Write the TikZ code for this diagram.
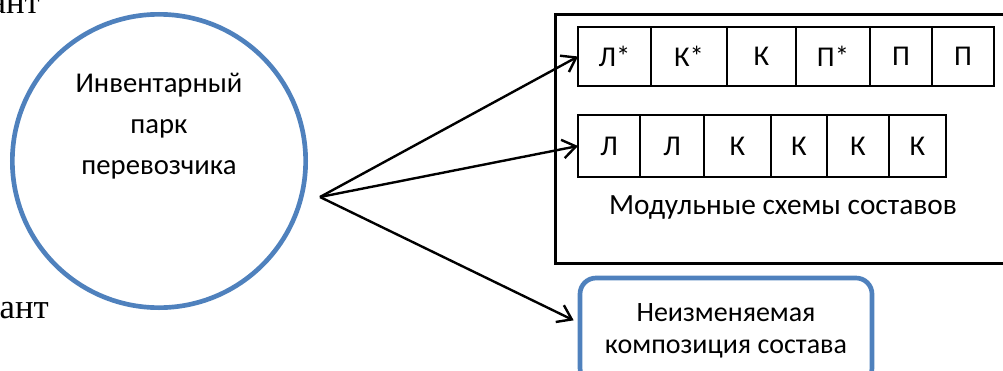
\documentclass[tikz,border=0pt]{standalone}
\usepackage{fontspec}
\setmainfont{Carlito}
\newfontfamily\serifcyr{Liberation Serif}
\usetikzlibrary{arrows.meta,positioning}
\definecolor{ringblue}{HTML}{4F81BD}

\begin{document}
\begin{tikzpicture}[x=0.75pt,y=-0.75pt,>={Straight Barb[length=10pt,width=14pt]}]
	\tikzstyle{cell} = [draw, rectangle, line width=1pt, inner sep=0pt, outer sep=0pt, font=\fontsize{21.5}{25}\selectfont]
	\tikzstyle{toprow} = [cell, minimum height=44.25pt]
	\tikzstyle{lowrow} = [cell, minimum height=46.5pt]
	
	\useasboundingbox (0,0) rectangle (1003,371);
	
	% cut-off words at the left margin
	\node [anchor=base east, inner sep=0pt, font=\serifcyr\fontsize{26}{30}\selectfont] (wordtop) at (40,13) {ант};
	
	\node [anchor=base east, inner sep=0pt, font=\serifcyr\fontsize{26}{30}\selectfont] (wordbot) at (49,318) {ант};
	
	\node [draw=ringblue, line width=3.5pt, circle, minimum size=220pt, inner sep=0pt] (park) at (159,161) {};
	
	\node [align=center, font=\fontsize{21.5}{31}\selectfont] (parktext) at (159,126) {Инвентарный\\парк\\перевозчика};
	
	\node [coordinate] (fork) at (320,197) {};
	
	\node [draw, line width=2.2pt, rectangle, anchor=north west, minimum width=345pt, minimum height=186.75pt] (schemes) at (554,13) {};
	
	% first train
	\node [toprow, minimum width=54.75pt, anchor=west] (a1) at (578,56.5) {Л*};
	\node [toprow, minimum width=57pt, right = 0pt of a1] (a2) {К*};
	\node [toprow, minimum width=51.75pt, right = 0pt of a2] (a3) {К};
	\node [toprow, minimum width=55.5pt, right = 0pt of a3] (a4) {П*};
	\node [toprow, minimum width=46.5pt, right = 0pt of a4] (a5) {П};
	\node [toprow, minimum width=46.5pt, right = 0pt of a5] (a6) {П};
	
	% second train
	\node [lowrow, minimum width=46.5pt, anchor=west] (b1) at (578,146) {Л};
	\node [lowrow, minimum width=48pt, right = 0pt of b1] (b2) {Л};
	\node [lowrow, minimum width=50.25pt, right = 0pt of b2] (b3) {К};
	\node [lowrow, minimum width=42pt, right = 0pt of b3] (b4) {К};
	\node [lowrow, minimum width=46.5pt, right = 0pt of b4] (b5) {К};
	\node [lowrow, minimum width=42.75pt, right = 0pt of b5] (b6) {К};
	
	\node [font=\fontsize{22}{26}\selectfont] (schemename) at (783,207) {Модульные схемы составов};
	
	\node [draw=ringblue, line width=3.5pt, rectangle, rounded corners=12pt, minimum width=219pt, minimum height=79.5pt, align=center, font=\fontsize{21}{24}\selectfont] (fixed) at (726,331) {Неизменяемая\\композиция состава};
	
	\draw [->, line width=1.8pt] (fork) -- (a1.west);
	
	\draw [->, line width=1.8pt] (fork) -- (b1.west);
	
	\draw [->, line width=1.8pt] (fork) -- ([xshift=-3pt, yshift=8pt]fixed.west);
	
\end{tikzpicture}
\end{document}
